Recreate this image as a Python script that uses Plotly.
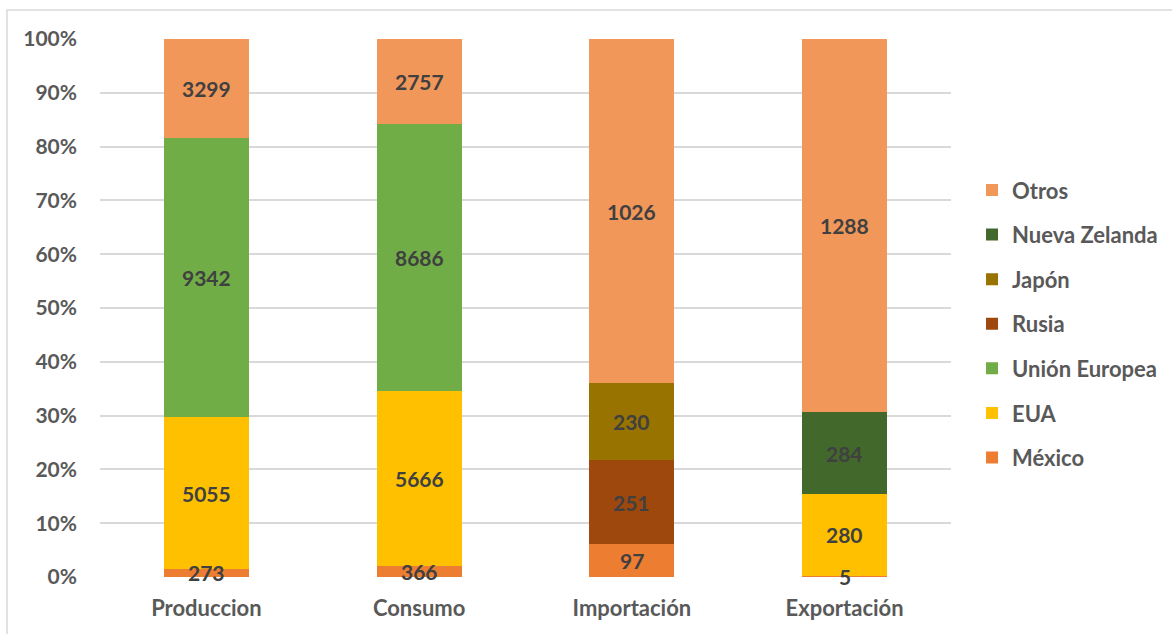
import plotly.graph_objects as go

categories = ["Produccion", "Consumo", "Importación", "Exportación"]
series_names = ["México", "EUA", "Unión Europea", "Rusia", "Japón", "Nueva Zelanda", "Otros"]
mexico = [273, 366, 97, 5]
eua = [5055, 5666, None, 280]
union_europea = [9342, 8686, None, None]
rusia = [None, None, 251, None]
japon = [None, None, 230, None]
nueva_zelanda = [None, None, None, 284]
otros = [3299, 2757, 1026, 1288]
series_values = [mexico, eua, union_europea, rusia, japon, nueva_zelanda, otros]
colors = ["#ED7D31", "#FFC000", "#70AD47", "#9E480E", "#997300", "#43682B", "#F1975A"]
y_ticks = [0, 10, 20, 30, 40, 50, 60, 70, 80, 90, 100]
y_tick_labels = [f"{v}%" for v in y_ticks]

FONT = "Lato"
fig = go.Figure()
n = len(series_names)
for i, (name, vals, col) in enumerate(zip(series_names, series_values, colors)):
    fig.add_trace(go.Bar(
        x=categories, y=vals, name=name, legendgroup=name,
        legendrank=n - i,
        marker=dict(color=col, line=dict(width=0)),
        hoverinfo="name+y",
    ))

# data labels on top of everything, centred in each stacked segment
totals = [sum(s[j] or 0 for s in series_values) for j in range(len(categories))]
annotations = []
for j, cat in enumerate(categories):
    cum = 0.0
    for vals in series_values:
        v = vals[j]
        if v is None:
            continue
        mid = (cum + v / 2.0) / totals[j] * 100.0
        cum += v
        annotations.append(dict(
            x=cat, y=mid, xref="x", yref="y", text=str(v), showarrow=False,
            font=dict(family=FONT, size=21, color="#404040", weight="bold"),
            xanchor="center", yanchor="middle",
        ))

fig.update_layout(
    barmode="stack", barnorm="percent", bargap=0.6,
    width=1172, height=634,
    margin=dict(l=100, r=221, t=39, b=57, autoexpand=False),
    paper_bgcolor="white", plot_bgcolor="white",
    font=dict(family=FONT, color="#595959", size=20, weight="bold"),
    showlegend=True,
    legend=dict(
        x=1.0247, xanchor="left", y=0.47, yanchor="middle",
        traceorder="grouped", tracegroupgap=13,
        font=dict(family=FONT, size=22, color="#595959", weight="bold"),
        itemwidth=30,
    ),
    yaxis=dict(
        range=[0, 100], tickmode="array", tickvals=y_ticks, ticktext=y_tick_labels,
        showgrid=True, gridcolor="#D9D9D9", gridwidth=1.5,
        zeroline=False, showline=False, ticks="",
        ticklabelstandoff=22,
        tickfont=dict(family=FONT, size=21, color="#595959", weight="bold"),
    ),
    xaxis=dict(
        showline=False, ticks="", ticklabelstandoff=16,
        tickfont=dict(family=FONT, size=22, color="#595959", weight="bold"),
    ),
    annotations=annotations,
    shapes=[dict(type="rect", xref="paper", yref="paper",
                 x0=-0.1093, y0=1.054, x1=2.0, y1=-0.5,
                 line=dict(color="#D9D9D9", width=1.5), layer="below")],
)

fig.write_html("out.html")
